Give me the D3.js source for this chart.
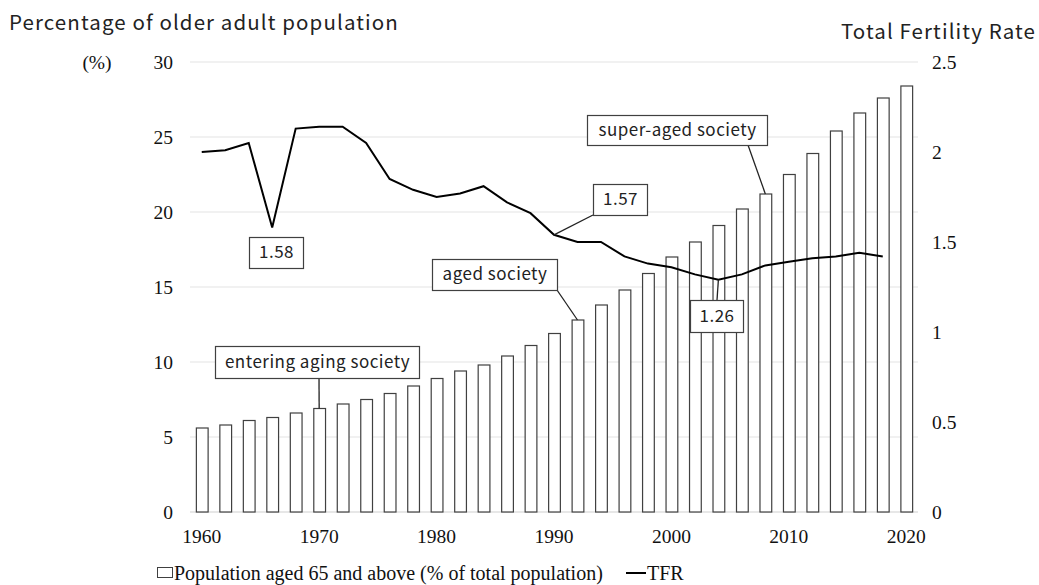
<!DOCTYPE html>
<html>
<head>
<meta charset="utf-8">
<script src="https://cdn.jsdelivr.net/npm/d3@7"></script>
<style>
  body { margin: 0; background: #fff; }
  svg { display: block; }
  .ttl { font-family: "Noto Sans CJK JP", "Noto Sans", sans-serif; font-size: 20.5px; letter-spacing: 1.1px; fill: #222; }
  .note { font-family: "Noto Sans CJK JP", "Noto Sans", sans-serif; font-size: 17px; letter-spacing: 0.5px; fill: #222; }
  .leg { font-family: "Liberation Serif", serif; font-size: 20px; fill: #111; }
</style>
</head>
<body>
<div id="chart"></div>
<script>
// data (every 2 years)
var years = d3.range(1960, 2021, 2);
var aged65 = [5.6, 5.8, 6.1, 6.3, 6.6, 6.9, 7.2, 7.5, 7.9, 8.4, 8.9, 9.4, 9.8, 10.4, 11.1, 11.9,
              12.8, 13.8, 14.8, 15.9, 17.0, 18.0, 19.1, 20.2, 21.2, 22.5, 23.9, 25.4, 26.6, 27.6, 28.4];
var tfrYears = d3.range(1960, 2019, 2);
var tfr = [2.00, 2.01, 2.05, 1.58, 2.13, 2.14, 2.14, 2.05, 1.85, 1.79, 1.75, 1.77, 1.81, 1.72, 1.66,
           1.54, 1.50, 1.50, 1.42, 1.38, 1.36, 1.32, 1.29, 1.32, 1.37, 1.39, 1.41, 1.42, 1.44, 1.42];
var leftTicks = [0, 5, 10, 15, 20, 25, 30];
var rightTicks = [0, 0.5, 1, 1.5, 2, 2.5];
var xLabels = [1960, 1970, 1980, 1990, 2000, 2010, 2020];

// callouts: text, anchor (year, value, which axis), box position
var notes = [
  {text: "entering aging society", year: 1970, v: 6.9, axis: "L", box: [215, 346, 204, 32], from: [319, 378]},
  {text: "aged society", year: 1992, v: 12.8, axis: "L", box: [432, 259, 125, 31], from: [557, 290]},
  {text: "super-aged society", year: 2008, v: 21.2, axis: "L", box: [587, 115, 180, 30], from: [748, 145]},
  {text: "1.57", year: 1990, v: 1.54, axis: "R", box: [593, 184, 54, 31], from: [593, 215]},
  {text: "1.58", year: 1966, v: 1.58, axis: "R", box: [249, 237, 54, 31], from: null},
  {text: "1.26", year: 2004, v: 1.29, axis: "R", box: [690, 300, 53, 32], from: [717, 300]}
];

var W = 1039, H = 585;
var svg = d3.select("#chart").append("svg").attr("width", W).attr("height", H);

var x = d3.scaleBand().domain(years).range([190, 918]).paddingInner(0.5).paddingOuter(0.25);
var yL = d3.scaleLinear().domain([0, 30]).range([512, 62]);
var yR = d3.scaleLinear().domain([0, 2.5]).range([512, 62]);
var cx = d => x(d) + x.bandwidth() / 2;

function serifTicks(g) {
  g.select(".domain").remove();
  g.selectAll("text")
    .style("font-family", "'Liberation Serif', serif")
    .style("font-size", "19.5px")
    .style("fill", "#111");
}

// gridlines
svg.append("g")
  .selectAll("line")
  .data(leftTicks)
  .enter().append("line")
  .attr("x1", 190).attr("x2", 918)
  .attr("y1", d => yL(d)).attr("y2", d => yL(d))
  .style("stroke", d => d == 0 ? "#d0d0d0" : "#e3e3e3")
  .style("stroke-width", 1.2);

// left axis
svg.append("g").attr("transform", "translate(183,0)")
  .call(d3.axisLeft(yL).tickValues(leftTicks).tickSize(0).tickPadding(10))
  .call(serifTicks);

// right axis
svg.append("g").attr("transform", "translate(924,0)")
  .call(d3.axisRight(yR).tickValues(rightTicks).tickSize(0).tickPadding(8).tickFormat(d3.format("")))
  .call(serifTicks);

// x axis
svg.append("g").attr("transform", "translate(0,522)")
  .call(d3.axisBottom(x).tickValues(xLabels).tickSize(0).tickPadding(7))
  .call(serifTicks);

// bars
svg.append("g")
  .selectAll("rect")
  .data(years)
  .enter().append("rect")
  .attr("x", d => x(d) + 0.5)
  .attr("y", (d, i) => yL(aged65[i]))
  .attr("width", x.bandwidth())
  .attr("height", (d, i) => yL(0) - yL(aged65[i]))
  .style("fill", "#fff")
  .style("stroke", "#404040")
  .style("stroke-width", 1.2);

// TFR line
var line = d3.line().x((d, i) => cx(tfrYears[i])).y(d => yR(d));
svg.append("path")
  .datum(tfr)
  .attr("d", line)
  .style("fill", "none")
  .style("stroke", "#000")
  .style("stroke-width", 2);

// callouts
notes.forEach(n => {
  var ax = cx(n.year), ay = n.axis == "L" ? yL(n.v) : yR(n.v);
  if (n.from) {
    svg.append("line")
      .attr("x1", n.from[0]).attr("y1", n.from[1])
      .attr("x2", ax).attr("y2", ay)
      .style("stroke", "#222").style("stroke-width", 1.3);
  }
  svg.append("rect")
    .attr("x", n.box[0] + 0.5).attr("y", n.box[1] + 0.5)
    .attr("width", n.box[2]).attr("height", n.box[3])
    .style("fill", "#fff").style("stroke", "#404040").style("stroke-width", 1.2);
  svg.append("text").attr("class", "note")
    .attr("x", n.box[0] + n.box[2] / 2 + 0.5)
    .attr("y", n.box[1] + n.box[3] / 2 + 1)
    .attr("text-anchor", "middle")
    .attr("dominant-baseline", "middle")
    .text(n.text);
});

// titles
svg.append("text").attr("class", "ttl").attr("x", 9).attr("y", 30).text("Percentage of older adult population");
svg.append("text").attr("class", "ttl").attr("x", 1036).attr("y", 39).attr("text-anchor", "end").text("Total Fertility Rate");
svg.append("text").attr("class", "leg").attr("x", 97).attr("y", 69).attr("text-anchor", "middle").style("font-size", "19.5px").text("(%)");

// legend
var lg = svg.append("g");
lg.append("rect").attr("x", 157.5).attr("y", 567.5).attr("width", 15).attr("height", 10)
  .style("fill", "#fff").style("stroke", "#404040");
lg.append("text").attr("class", "leg").attr("x", 174).attr("y", 580).text("Population aged 65 and above (% of total population)");
lg.append("line").attr("x1", 626).attr("x2", 646).attr("y1", 573).attr("y2", 573)
  .style("stroke", "#000").style("stroke-width", 2);
lg.append("text").attr("class", "leg").attr("x", 647).attr("y", 580).text("TFR");
</script>
</body>
</html>
